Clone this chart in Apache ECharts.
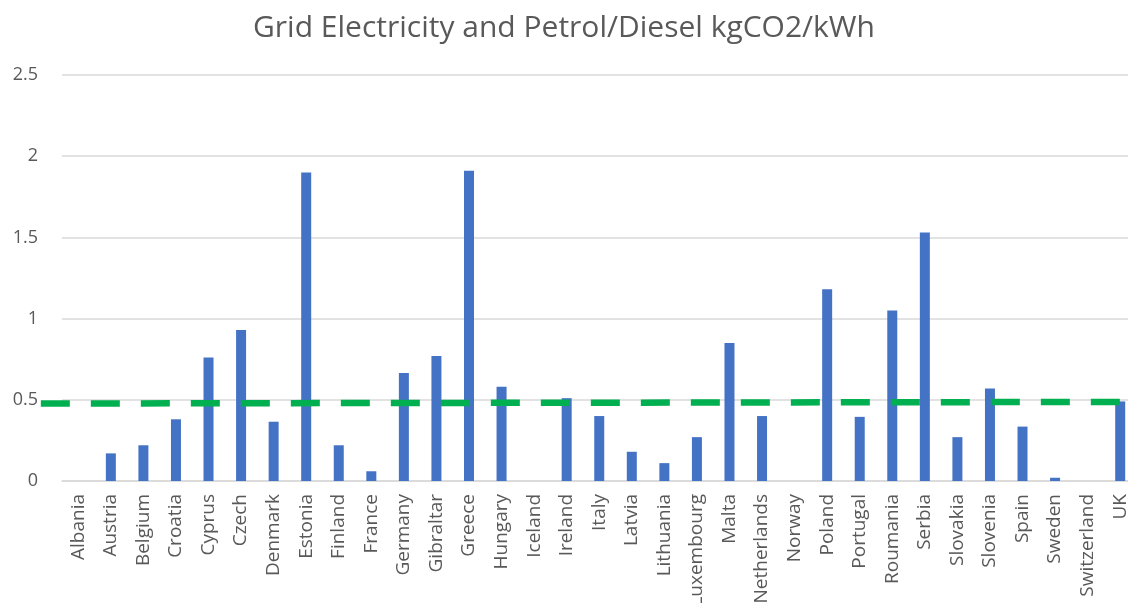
<!DOCTYPE html>
<html>
<head>
<meta charset="utf-8">
<script src="https://cdn.jsdelivr.net/npm/echarts@6/dist/echarts.min.js"></script>
<style>
  html, body { margin: 0; padding: 0; background: #fff; }
  #chart { width: 1128px; height: 603px; }
</style>
</head>
<body>
<div id="chart"></div>
<script>
// countries on the x axis
const countries = [
  "Albania", "Austria", "Belgium", "Croatia", "Cyprus", "Czech", "Denmark",
  "Estonia", "Finland", "France", "Germany", "Gibraltar", "Greece", "Hungary",
  "Iceland", "Ireland", "Italy", "Latvia", "Lithuania", "Luxembourg", "Malta",
  "Netherlands", "Norway", "Poland", "Portugal", "Roumania", "Serbia",
  "Slovakia", "Slovenia", "Spain", "Sweden", "Switzerland", "UK"
];

// grid electricity kgCO2/kWh
const gridValues = [
  0, 0.17, 0.22, 0.38, 0.76, 0.93, 0.365,
  1.9, 0.22, 0.06, 0.665, 0.77, 1.91, 0.58,
  0, 0.51, 0.40, 0.18, 0.11, 0.27, 0.85,
  0.40, 0, 1.18, 0.395, 1.05, 1.53,
  0.27, 0.57, 0.335, 0.02, 0, 0.49
];

// petrol/diesel reference line: [category position, value] at both ends
const petrolLine = [[-1.15, 0.477], [32, 0.487]];

const yTicks = { min: 0, max: 2.5, interval: 0.5 };

// plot geometry: one category slot is catW pixels
const plotLeft = 62, plotTop = 75, plotH = 406;
const catW = 32.56;
const plotW = catW * countries.length;
// second, wider grid for the dashed line so it can start left of the bars
const lineLeft = 30;

const chart = echarts.init(document.getElementById("chart"));

chart.setOption({
  animation: false,
  title: {
    text: "Grid Electricity and Petrol/Diesel kgCO2/kWh",
    left: "center",
    top: 8,
    textStyle: {
      fontFamily: "Open Sans",
      fontWeight: "normal",
      fontSize: 30,
      color: "#595959"
    }
  },
  grid: [
    { left: plotLeft, top: plotTop, width: plotW, height: plotH, outerBoundsMode: "none", containLabel: false },
    { left: lineLeft, top: plotTop, width: plotW + plotLeft - lineLeft, height: plotH, outerBoundsMode: "none", containLabel: false }
  ],
  xAxis: [
    {
      type: "category",
      gridIndex: 0,
      data: countries,
      axisLine: { lineStyle: { color: "#d9d9d9", width: 1.5 } },
      axisTick: { show: false },
      axisLabel: {
        interval: 0,
        rotate: 90,
        margin: 13,
        fontFamily: "Open Sans",
        fontSize: 19,
        color: "#595959"
      }
    },
    {
      type: "value",
      gridIndex: 1,
      min: -0.5 - (plotLeft - lineLeft) / catW,
      max: countries.length - 0.5,
      show: false
    }
  ],
  yAxis: [
    {
      type: "value",
      gridIndex: 0,
      min: yTicks.min,
      max: yTicks.max,
      interval: yTicks.interval,
      axisLine: { show: false },
      axisTick: { show: false },
      axisLabel: {
        margin: 24,
        fontFamily: "Open Sans",
        fontSize: 18,
        color: "#595959",
        formatter: (v) => String(v)
      },
      splitLine: { lineStyle: { color: "#d9d9d9", width: 1.5 } }
    },
    {
      type: "value",
      gridIndex: 1,
      min: yTicks.min,
      max: yTicks.max,
      show: false
    }
  ],
  series: [
    {
      name: "Grid Electricity",
      type: "bar",
      data: gridValues,
      barWidth: 10,
      itemStyle: { color: "#4472C4" }
    },
    {
      name: "Petrol/Diesel",
      type: "line",
      xAxisIndex: 1,
      yAxisIndex: 1,
      data: petrolLine,
      showSymbol: false,
      z: 3,
      lineStyle: { color: "#00B050", width: 6.5, type: [29, 21] }
    }
  ]
});
</script>
</body>
</html>
